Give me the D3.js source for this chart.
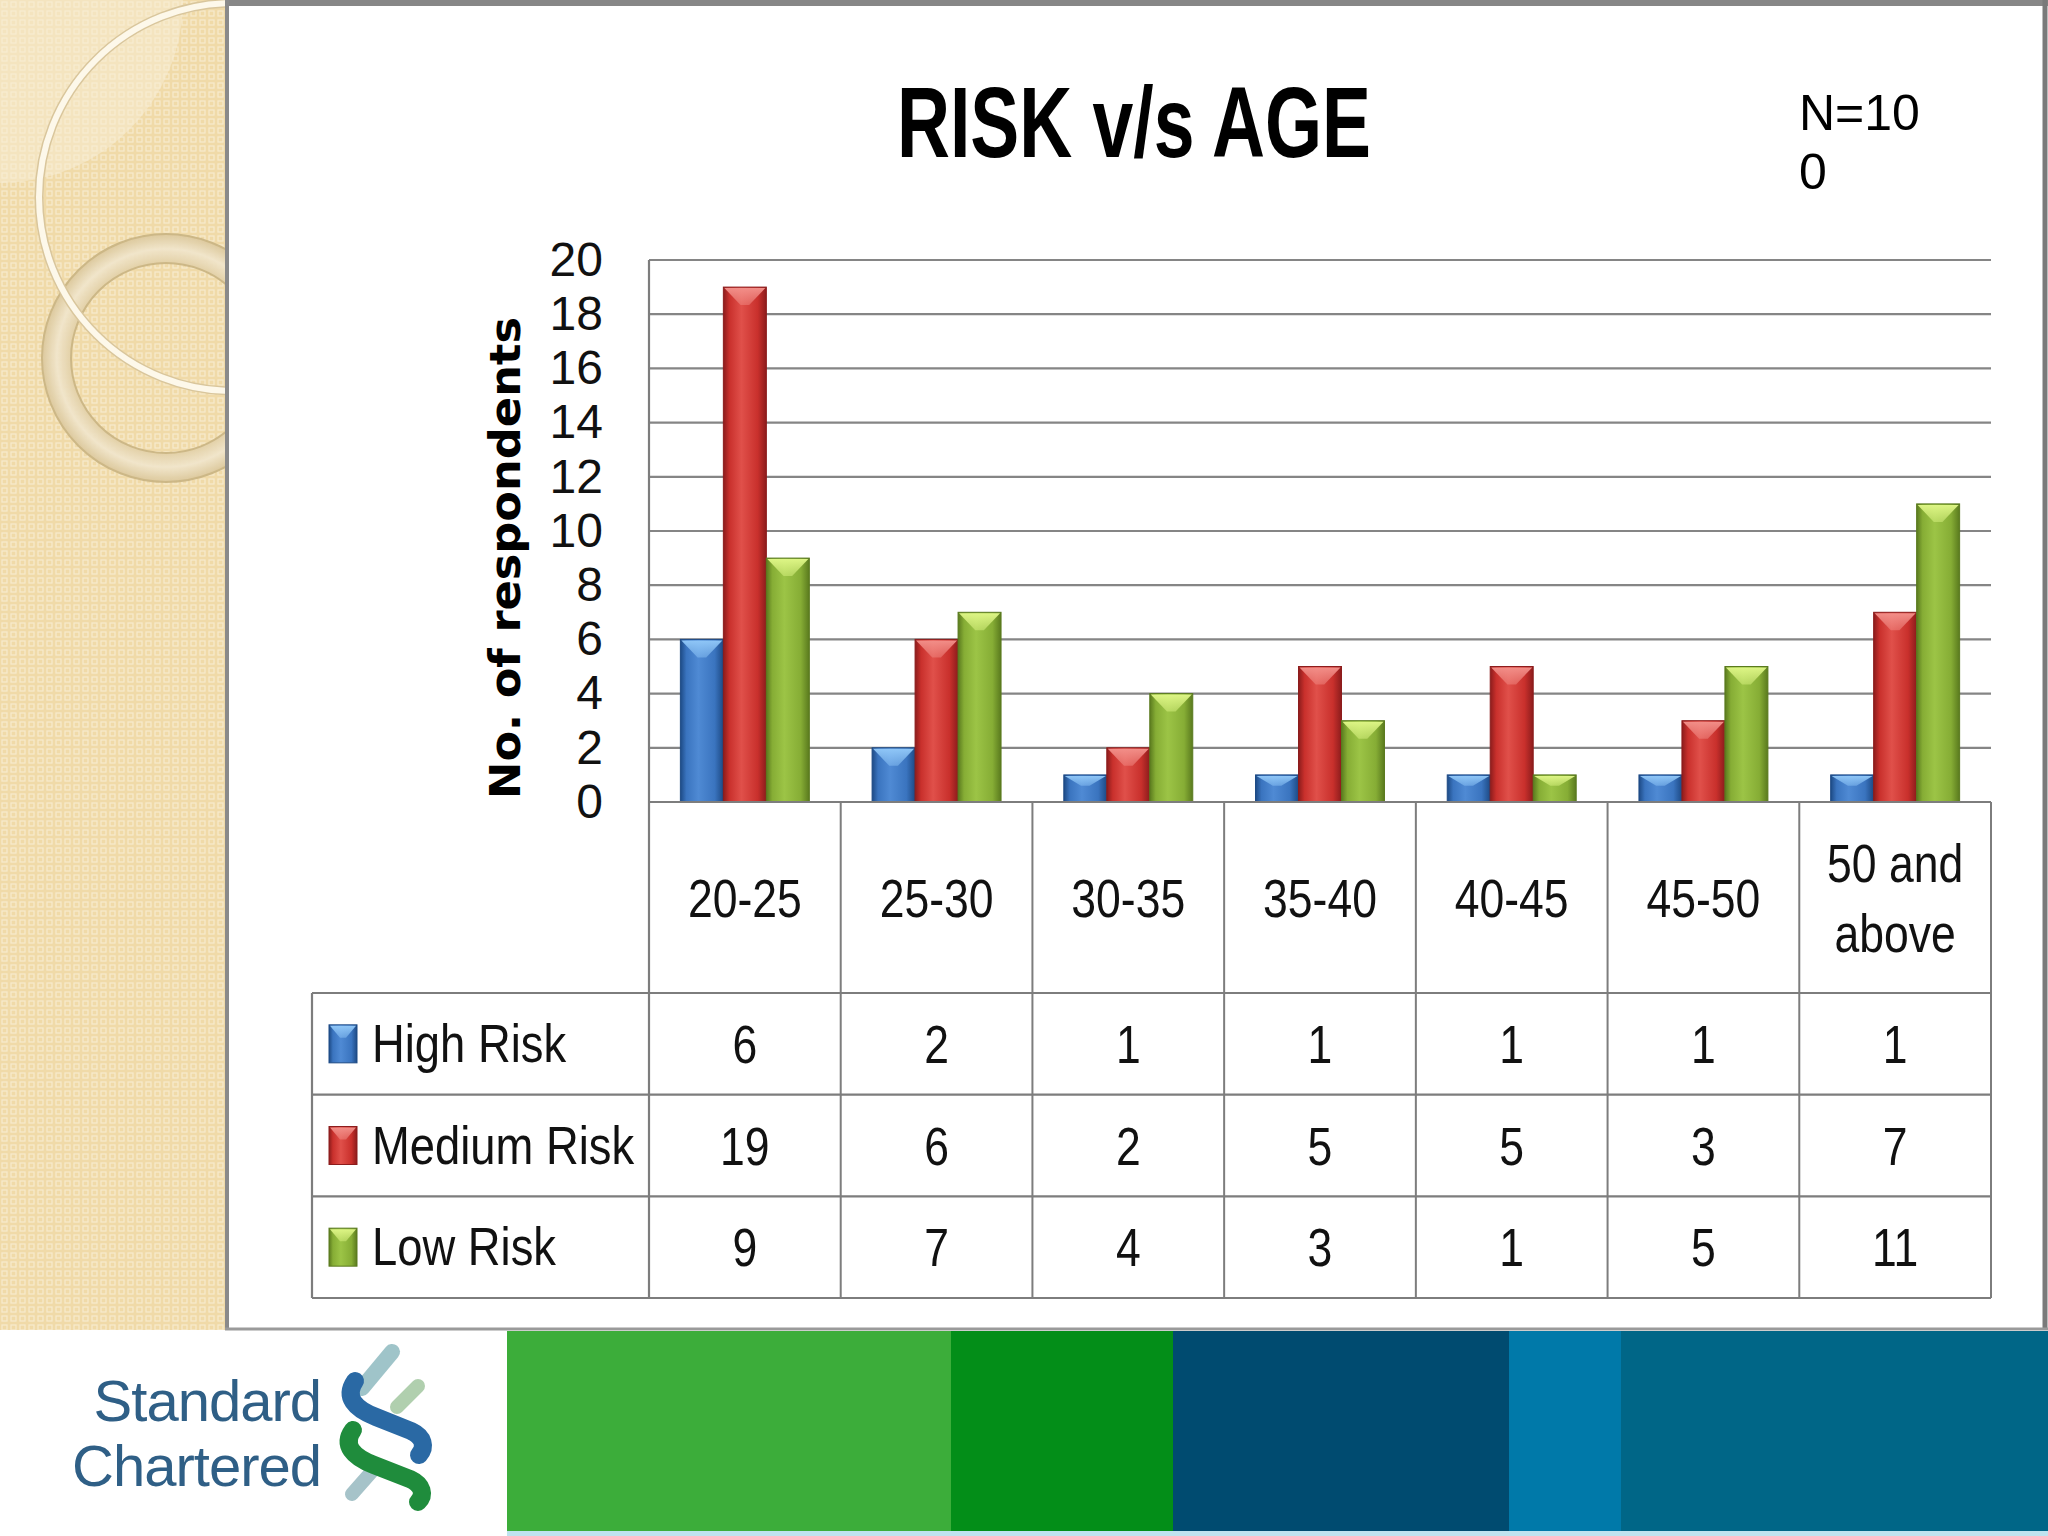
<!DOCTYPE html>
<html>
<head>
<meta charset="utf-8">
<script src="https://cdn.jsdelivr.net/npm/d3@7"></script>
<style>
body { margin: 0; background: #fff; }
svg { display: block; }
</style>
</head>
<body>
<svg id="chart"></svg>
<script>
// chart values
const categories = ["20-25", "25-30", "30-35", "35-40", "40-45", "45-50", "50 and above"];
const seriesNames = ["High Risk", "Medium Risk", "Low Risk"];
const highRisk = [6, 2, 1, 1, 1, 1, 1];
const mediumRisk = [19, 6, 2, 5, 5, 3, 7];
const lowRisk = [9, 7, 4, 3, 1, 5, 11];
const yMax = 20;
const chartTitle = "RISK v/s AGE";
const yTitle = "No. of respondents";
const sampleNote = ["N=10", "0"];

const width = 2048;
const height = 1536;
const sans = "'Liberation Sans', Arial, sans-serif";
const squeezeK = 0.84;

// excel 2007 style bar colours: edge, body, highlight, top facet
const palette = {
    "High Risk":   { edge: "#1d4a85", body: "#3a74bf", light: "#4f8ad4", top: "#8fc6f7" },
    "Medium Risk": { edge: "#8c1c1c", body: "#c9302c", light: "#e0504a", top: "#f28e88" },
    "Low Risk":    { edge: "#5a7a1e", body: "#86ad35", light: "#9cc446", top: "#ddf585" }
};

const series = [
    { name: seriesNames[0], values: highRisk },
    { name: seriesNames[1], values: mediumRisk },
    { name: seriesNames[2], values: lowRisk }
];

// fake a narrow face (Calibri-like) by compressing the text horizontally
function squeeze(sel, k = squeezeK) {
    sel.each(function() {
        const L = this.getComputedTextLength();
        d3.select(this).attr("textLength", L * k).attr("lengthAdjust", "spacingAndGlyphs");
    });
}

const svg = d3.select("#chart").attr("width", width).attr("height", height);
const defs = svg.append("defs");

// ---------- slide background ----------
const pat = defs.append("pattern")
    .attr("id", "dots").attr("width", 9).attr("height", 9)
    .attr("patternUnits", "userSpaceOnUse");
pat.append("rect").attr("width", 9).attr("height", 9).attr("fill", "#f0daa8");
pat.append("rect").attr("x", 2).attr("y", 2).attr("width", 5).attr("height", 5)
    .attr("fill", "none").attr("stroke", "#f7eacb").attr("stroke-width", 1.3);

defs.append("clipPath").attr("id", "stripClip")
    .append("rect").attr("width", 225).attr("height", 1330);

const ringGrad = defs.append("radialGradient").attr("id", "ringGrad")
    .attr("cx", "0.5").attr("cy", "0.5").attr("r", "0.5");
ringGrad.append("stop").attr("offset", "76%").attr("stop-color", "#e2cfa5");
ringGrad.append("stop").attr("offset", "88%").attr("stop-color", "#f1e6cc");
ringGrad.append("stop").attr("offset", "100%").attr("stop-color", "#dcc89c");

const strip = svg.append("g").attr("clip-path", "url(#stripClip)");
strip.append("rect").attr("width", 225).attr("height", 1330).attr("fill", "url(#dots)");
strip.append("path")
    .attr("d", "M0,0 L183,0 A183,183 0 0 1 0,183 Z")
    .attr("fill", "#f8eed6").attr("opacity", 0.5);
strip.append("path")
    .attr("d", d3.arc()({ innerRadius: 95, outerRadius: 124, startAngle: 0, endAngle: 2 * Math.PI }))
    .attr("transform", "translate(166,358)")
    .attr("fill", "url(#ringGrad)").attr("opacity", 0.95)
    .attr("stroke", "#cbb685").attr("stroke-width", 2);
strip.append("circle").attr("cx", 233).attr("cy", 197).attr("r", 194)
    .attr("fill", "none").attr("stroke", "#d9c69c").attr("stroke-width", 9);
strip.append("circle").attr("cx", 233).attr("cy", 197).attr("r", 194)
    .attr("fill", "none").attr("stroke", "#fdf8ea").attr("stroke-width", 6);

// white content panel
svg.append("rect").attr("x", 225).attr("y", 0).attr("width", width - 225).attr("height", 1330)
    .attr("fill", "#ffffff");
svg.append("rect").attr("x", 225).attr("y", 0).attr("width", width - 225).attr("height", 6)
    .attr("fill", "#878787");
svg.append("line").attr("x1", 227).attr("x2", 227).attr("y1", 0).attr("y2", 1330)
    .attr("stroke", "#8a8a8a").attr("stroke-width", 4);
svg.append("line").attr("x1", 2045).attr("x2", 2045).attr("y1", 0).attr("y2", 1330)
    .attr("stroke", "#7a7a7a").attr("stroke-width", 5);
svg.append("line").attr("x1", 225).attr("x2", width).attr("y1", 1329).attr("y2", 1329)
    .attr("stroke", "#9a9a9a").attr("stroke-width", 3);

// ---------- bottom banner ----------
const bannerStops = [0, 507, 951, 1173, 1509, 1621, 2048];
const bannerColors = ["#ffffff", "#3cad3a", "#038e18", "#004b70", "#0079a9", "#006687"];
svg.append("g").selectAll("rect")
    .data(bannerColors)
    .join("rect")
    .attr("x", (d, i) => bannerStops[i])
    .attr("y", 1331)
    .attr("width", (d, i) => bannerStops[i + 1] - bannerStops[i])
    .attr("height", 205)
    .attr("fill", d => d);
svg.append("rect").attr("x", 507).attr("y", 1531).attr("width", width - 507).attr("height", 5)
    .attr("fill", "#bfe3ef");

// logo
const logo = svg.append("g");
logo.selectAll("text")
    .data(["Standard", "Chartered"])
    .join("text")
    .attr("x", 321).attr("y", (d, i) => 1421 + i * 65)
    .attr("text-anchor", "end")
    .style("font-family", sans).style("font-size", "58px")
    .style("letter-spacing", "-1px")
    .attr("fill", "#2f5f86").text(d => d);
logo.append("path").attr("d", "M392,1352 L362,1388")
    .attr("stroke", "#9fc4c9").attr("stroke-width", 16).attr("stroke-linecap", "round").attr("fill", "none");
logo.append("path").attr("d", "M418,1386 L397,1407")
    .attr("stroke", "#b0cfae").attr("stroke-width", 14).attr("stroke-linecap", "round").attr("fill", "none");
logo.append("path").attr("d", "M374,1469 L352,1494")
    .attr("stroke", "#a6c3c9").attr("stroke-width", 14).attr("stroke-linecap", "round").attr("fill", "none");
logo.append("path").attr("d", "M355,1381 C344,1397 355,1409 376,1417 L411,1431 C424,1437 426,1447 419,1455")
    .attr("stroke", "#2a69a4").attr("stroke-width", 18).attr("stroke-linecap", "round").attr("fill", "none");
logo.append("path").attr("d", "M353,1430 C342,1445 353,1457 374,1465 L410,1479 C423,1485 425,1495 418,1502")
    .attr("stroke", "#1f8c3c").attr("stroke-width", 18).attr("stroke-linecap", "round").attr("fill", "none");

// ---------- titles ----------
svg.append("text")
    .attr("x", 1134).attr("y", 157)
    .attr("text-anchor", "middle")
    .attr("textLength", 474).attr("lengthAdjust", "spacingAndGlyphs")
    .style("font-family", sans).style("font-weight", "bold").style("font-size", "100px")
    .attr("fill", "#000").text(chartTitle);

svg.append("g").selectAll("text")
    .data(sampleNote)
    .join("text")
    .attr("x", 1799).attr("y", (d, i) => 130 + i * 59)
    .style("font-family", sans).style("font-size", "50px")
    .attr("fill", "#000").text(d => d);

// ---------- scales ----------
const plotLeft = 649, plotRight = 1991, plotTop = 260, plotBottom = 802;
const tableLeft = 312, tableBottom = 1298;

const xScale = d3.scaleBand().domain(categories).range([plotLeft, plotRight]);
const xSeries = d3.scaleBand().domain(seriesNames)
    .range([0, xScale.bandwidth()]).paddingInner(0).paddingOuter(0.73);
const yScale = d3.scaleLinear().domain([0, yMax]).range([plotBottom, plotTop]);
const rowScale = d3.scaleBand().domain(seriesNames).range([993, tableBottom]);

// gradients for bars
seriesNames.forEach((name, i) => {
    const c = palette[name];
    const g = defs.append("linearGradient").attr("id", "bar" + i)
        .attr("x1", "0").attr("x2", "1").attr("y1", "0").attr("y2", "0");
    g.append("stop").attr("offset", "0%").attr("stop-color", c.edge);
    g.append("stop").attr("offset", "14%").attr("stop-color", c.body);
    g.append("stop").attr("offset", "42%").attr("stop-color", c.light);
    g.append("stop").attr("offset", "80%").attr("stop-color", c.body);
    g.append("stop").attr("offset", "100%").attr("stop-color", c.edge);
    const t = defs.append("linearGradient").attr("id", "top" + i)
        .attr("x1", "0").attr("x2", "0").attr("y1", "0").attr("y2", "1");
    t.append("stop").attr("offset", "0%").attr("stop-color", c.top).attr("stop-opacity", 1);
    t.append("stop").attr("offset", "100%").attr("stop-color", c.top).attr("stop-opacity", 0.45);
});

const chart = svg.append("g");

// gridlines
chart.append("g").selectAll("line")
    .data(yScale.ticks(10).filter(d => d > 0))
    .join("line")
    .attr("x1", plotLeft).attr("x2", plotRight)
    .attr("y1", d => yScale(d)).attr("y2", d => yScale(d))
    .attr("stroke", "#858585").attr("stroke-width", 2.2);

// y axis labels
const yAxis = chart.append("g")
    .attr("transform", `translate(${plotLeft},0)`)
    .call(d3.axisLeft(yScale).tickValues(yScale.ticks(10)).tickSize(0).tickPadding(46));
yAxis.select(".domain").remove();
yAxis.selectAll("text")
    .style("font-family", sans).style("font-size", "48px").attr("fill", "#111");

chart.append("text")
    .attr("transform", "translate(520,558) rotate(-90)")
    .attr("text-anchor", "middle")
    .attr("textLength", 482).attr("lengthAdjust", "spacingAndGlyphs")
    .style("font-family", "'DejaVu Sans', Verdana, sans-serif").style("font-weight", "bold")
    .style("font-size", "43px").attr("fill", "#000")
    .text(yTitle);

// bars
function barShape(sel, idxOf) {
    sel.each(function(d) {
        const g = d3.select(this);
        const i = idxOf(d);
        const x = xSeries(d.key);
        const w = xSeries.bandwidth();
        const y = yScale(d.value);
        const h = yScale(0) - y;
        g.append("rect")
            .attr("x", x).attr("y", y).attr("width", w).attr("height", h)
            .attr("fill", `url(#bar${i})`)
            .attr("stroke", palette[d.key].edge).attr("stroke-width", 1);
        const dpt = Math.min(18, h * 0.4);
        g.append("path")
            .attr("d", `M${x + 1},${y + 1} L${x + w - 1},${y + 1} L${x + w * 0.6},${y + dpt} L${x + w * 0.4},${y + dpt} Z`)
            .attr("fill", `url(#top${i})`);
    });
}

const groups = chart.append("g").selectAll("g")
    .data(categories)
    .join("g")
    .attr("transform", d => `translate(${xScale(d)},0)`);

groups.selectAll("g")
    .data((c, ci) => series.map(s => ({ key: s.name, value: s.values[ci] })))
    .join("g")
    .call(barShape, d => seriesNames.indexOf(d.key));

// ---------- data table ----------
const lineColor = "#7d7d7d";
const table = svg.append("g");

// horizontal rules
table.append("g").selectAll("line")
    .data(seriesNames.map(n => rowScale(n)).concat([tableBottom]))
    .join("line")
    .attr("x1", tableLeft).attr("x2", plotRight)
    .attr("y1", d => d).attr("y2", d => d)
    .attr("stroke", lineColor).attr("stroke-width", 2.2);
table.append("line")
    .attr("x1", plotLeft).attr("x2", plotRight)
    .attr("y1", plotBottom).attr("y2", plotBottom)
    .attr("stroke", lineColor).attr("stroke-width", 2.2);

// vertical rules
table.append("g").selectAll("line")
    .data(categories)
    .join("line")
    .attr("x1", d => xScale(d) + xScale.bandwidth()).attr("x2", d => xScale(d) + xScale.bandwidth())
    .attr("y1", plotBottom).attr("y2", tableBottom)
    .attr("stroke", lineColor).attr("stroke-width", 2);
table.append("line")
    .attr("x1", plotLeft).attr("x2", plotLeft)
    .attr("y1", plotTop).attr("y2", tableBottom)
    .attr("stroke", lineColor).attr("stroke-width", 2.2);
table.append("line")
    .attr("x1", tableLeft).attr("x2", tableLeft)
    .attr("y1", rowScale(seriesNames[0])).attr("y2", tableBottom)
    .attr("stroke", lineColor).attr("stroke-width", 2.2);

// category labels, wrapped to the cell width
const headMid = (plotBottom + rowScale(seriesNames[0])) / 2;
const headLines = [];
categories.forEach(cat => {
    const probe = svg.append("text").style("font-family", sans).style("font-size", "53px");
    const lines = [];
    let cur = [];
    cat.split(" ").forEach(w => {
        probe.text(cur.concat([w]).join(" "));
        if (cur.length && probe.node().getComputedTextLength() * squeezeK > xScale.bandwidth() - 24) {
            lines.push(cur.join(" "));
            cur = [w];
        } else {
            cur.push(w);
        }
    });
    lines.push(cur.join(" "));
    probe.remove();
    const lh = 70;
    lines.forEach((l, i) => headLines.push({
        cat: cat, text: l,
        y: headMid + 19 - (lines.length - 1) * lh / 2 + i * lh
    }));
});

table.append("g").selectAll("text")
    .data(headLines)
    .join("text")
    .attr("x", d => xScale(d.cat) + xScale.bandwidth() / 2)
    .attr("y", d => d.y)
    .attr("text-anchor", "middle")
    .style("font-family", sans).style("font-size", "53px").attr("fill", "#111")
    .text(d => d.text)
    .call(squeeze);

// legend keys and values
const rows = table.append("g").selectAll("g")
    .data(series)
    .join("g")
    .attr("transform", d => `translate(0,${rowScale(d.name) + rowScale.bandwidth() / 2})`);

rows.each(function(s, i) {
    const r = d3.select(this);
    const c = palette[s.name];
    r.append("rect").attr("x", 329).attr("y", -19).attr("width", 28).attr("height", 38)
        .attr("fill", `url(#bar${i})`).attr("stroke", c.edge).attr("stroke-width", 1);
    r.append("path").attr("d", "M330,-18 L356,-18 L346,-6 L340,-6 Z").attr("fill", `url(#top${i})`);
    r.append("text").attr("x", 372).attr("y", 18)
        .style("font-family", sans).style("font-size", "54px").attr("fill", "#111")
        .text(s.name)
        .call(squeeze);
    r.selectAll("text.val")
        .data(s.values)
        .join("text")
        .attr("class", "val")
        .attr("x", (v, j) => xScale(categories[j]) + xScale.bandwidth() / 2)
        .attr("y", 19)
        .attr("text-anchor", "middle")
        .style("font-family", sans).style("font-size", "53px").attr("fill", "#111")
        .text(v => v)
        .call(squeeze);
});
</script>
</body>
</html>
